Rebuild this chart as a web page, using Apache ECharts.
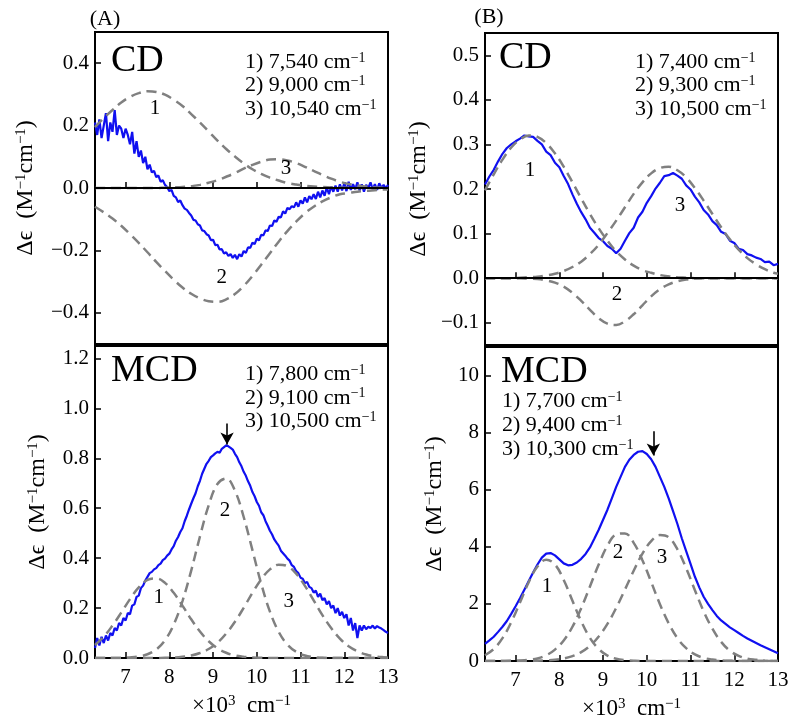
<!DOCTYPE html>
<html>
<head>
<meta charset="utf-8">
<script src="https://cdn.jsdelivr.net/npm/echarts@6/dist/echarts.min.js"></script>
<style>
  html, body { margin: 0; padding: 0; background: #fff; }
  #chart { width: 800px; height: 726px; }
</style>
</head>
<body>
<div id="chart"></div>
<script>
// wavenumber grids (x10^3 cm-1)
var xFine = [
  6.30,6.35,6.40,6.45,6.50,6.55,6.60,6.65,6.70,6.75,
  6.80,6.85,6.90,6.95,7.00,7.05,7.10,7.15,7.20,7.25,
  7.30,7.35,7.40,7.45,7.50,7.55,7.60,7.65,7.70,7.75,
  7.80,7.85,7.90,7.95,8.00,8.05,8.10,8.15,8.20,8.25,
  8.30,8.35,8.40,8.45,8.50,8.55,8.60,8.65,8.70,8.75,
  8.80,8.85,8.90,8.95,9.00,9.05,9.10,9.15,9.20,9.25,
  9.30,9.35,9.40,9.45,9.50,9.55,9.60,9.65,9.70,9.75,
  9.80,9.85,9.90,9.95,10.00,10.05,10.10,10.15,10.20,10.25,
  10.30,10.35,10.40,10.45,10.50,10.55,10.60,10.65,10.70,10.75,
  10.80,10.85,10.90,10.95,11.00,11.05,11.10,11.15,11.20,11.25,
  11.30,11.35,11.40,11.45,11.50,11.55,11.60,11.65,11.70,11.75,
  11.80,11.85,11.90,11.95,12.00,12.05,12.10,12.15,12.20,12.25,
  12.30,12.35,12.40,12.45,12.50,12.55,12.60,12.65,12.70,12.75,
  12.80,12.85,12.90,12.95,13.00
];
var xMid = [
  6.3,6.4,6.5,6.6,6.7,6.8,6.9,7.0,7.1,7.2,
  7.3,7.4,7.5,7.6,7.7,7.8,7.9,8.0,8.1,8.2,
  8.3,8.4,8.5,8.6,8.7,8.8,8.9,9.0,9.1,9.2,
  9.3,9.4,9.5,9.6,9.7,9.8,9.9,10.0,10.1,10.2,
  10.3,10.4,10.5,10.6,10.7,10.8,10.9,11.0,11.1,11.2,
  11.3,11.4,11.5,11.6,11.7,11.8,11.9,12.0,12.1,12.2,
  12.3,12.4,12.5,12.6,12.7,12.8,12.9,13.0
];
var xComp = [
  6.3,6.5,6.7,6.9,7.1,7.3,7.5,7.7,7.9,8.1,
  8.3,8.5,8.7,8.9,9.1,9.3,9.5,9.7,9.9,10.1,
  10.3,10.5,10.7,10.9,11.1,11.3,11.5,11.7,11.9,12.1,
  12.3,12.5,12.7,12.9,13.0
];
var xTicks = [7, 8, 9, 10, 11, 12, 13];

// (A) CD
var cdA_obs = [
  0.21,0.17,0.22,0.16,0.20,0.24,0.15,0.21,0.18,0.25,
  0.17,0.20,0.19,0.16,0.19,0.17,0.14,0.18,0.11,0.15,
  0.10,0.12,0.08,0.10,0.06,0.075,0.05,0.055,0.035,0.04,
  0.02,0.025,0.01,0.003,-0.01,-0.006,-0.025,-0.03,-0.045,-0.04,
  -0.055,-0.066,-0.07,-0.08,-0.088,-0.102,-0.104,-0.116,-0.12,-0.136,
  -0.138,-0.148,-0.152,-0.167,-0.166,-0.183,-0.182,-0.197,-0.196,-0.21,
  -0.206,-0.218,-0.212,-0.224,-0.214,-0.228,-0.212,-0.22,-0.202,-0.208,
  -0.19,-0.192,-0.175,-0.18,-0.162,-0.168,-0.15,-0.152,-0.136,-0.138,
  -0.12,-0.122,-0.104,-0.108,-0.092,-0.094,-0.075,-0.082,-0.064,-0.068,
  -0.058,-0.062,-0.046,-0.06,-0.04,-0.05,-0.03,-0.046,-0.026,-0.036,
  -0.02,-0.035,-0.012,-0.03,-0.008,-0.025,0.002,-0.02,0.005,-0.012,
  0.008,-0.012,0.012,-0.008,0.015,-0.01,0.02,-0.006,0.012,-0.004,
  0.018,-0.008,0.012,-0.012,0.01,0.0,0.018,-0.004,0.012,-0.006,
  0.015,0.0,0.01,-0.002,0.01
];
var cdA_g1 = [
  0.195,0.224,0.250,0.274,0.292,0.304,0.310,0.308,0.299,0.283,
  0.263,0.237,0.210,0.181,0.152,0.125,0.101,0.079,0.060,0.045,
  0.033,0.024,0.016,0.011,0.007,0.005,0.003,0.002,0.001,0.001,
  0,0,0,0,0
];
var cdA_g2 = [
  -0.060,-0.078,-0.098,-0.121,-0.148,-0.176,-0.206,-0.237,-0.266,-0.294,
  -0.319,-0.339,-0.354,-0.363,-0.365,-0.357,-0.340,-0.314,-0.282,-0.246,
  -0.209,-0.172,-0.138,-0.108,-0.081,-0.060,-0.043,-0.030,-0.020,-0.016,
  -0.012,-0.009,-0.007,-0.005,-0.005
];
var cdA_g3 = [
  0,0,0,0,0,0,0,0,0.001,0.002,
  0.003,0.006,0.010,0.017,0.025,0.036,0.048,0.062,0.074,0.084,
  0.091,0.092,0.088,0.080,0.068,0.055,0.042,0.030,0.020,0.013,
  0.008,0.005,0.002,0.001,0.001
];

// (A) MCD
var mcdA_obs = [
  0.04,0.08,0.05,0.085,0.06,0.09,0.07,0.1,0.09,0.12,
  0.11,0.14,0.13,0.16,0.15,0.18,0.175,0.21,0.215,0.245,
  0.25,0.28,0.29,0.31,0.325,0.34,0.345,0.355,0.36,0.372,
  0.378,0.392,0.398,0.41,0.418,0.435,0.448,0.47,0.485,0.505,
  0.52,0.548,0.57,0.595,0.618,0.64,0.66,0.688,0.71,0.738,
  0.758,0.778,0.79,0.805,0.812,0.82,0.826,0.822,0.838,0.845,
  0.852,0.848,0.842,0.835,0.818,0.805,0.784,0.768,0.746,0.73,
  0.708,0.69,0.665,0.648,0.625,0.61,0.584,0.572,0.548,0.53,
  0.51,0.495,0.475,0.462,0.45,0.43,0.42,0.41,0.398,0.39,
  0.372,0.365,0.348,0.34,0.322,0.318,0.3,0.305,0.285,0.28,
  0.262,0.27,0.245,0.258,0.232,0.24,0.215,0.228,0.2,0.21,
  0.18,0.2,0.17,0.185,0.16,0.175,0.13,0.16,0.11,0.14,
  0.08,0.13,0.11,0.13,0.115,0.125,0.12,0.13,0.118,0.128,
  0.122,0.118,0.112,0.105,0.1
];
var mcdA_g1 = [
  0.052,0.085,0.130,0.182,0.236,0.283,0.313,0.319,0.301,0.261,
  0.210,0.155,0.106,0.067,0.039,0.021,0.010,0.005,0.002,0.001,
  0,0,0,0,0,0,0,0,0,0,
  0,0,0,0,0
];
var mcdA_g2 = [
  0,0,0,0,0.002,0.006,0.015,0.034,0.071,0.134,
  0.228,0.350,0.487,0.612,0.697,0.719,0.670,0.565,0.432,0.298,
  0.186,0.105,0.054,0.025,0.010,0.004,0.001,0,0,0,
  0,0,0,0,0
];
var mcdA_g3 = [
  0,0,0,0,0,0,0,0,0.001,0.002,
  0.005,0.010,0.020,0.036,0.061,0.098,0.145,0.201,0.261,0.315,
  0.355,0.374,0.368,0.338,0.289,0.231,0.172,0.120,0.078,0.047,
  0.027,0.014,0.007,0.003,0.002
];

// (B) CD
var cdB_obs = [
  0.21,0.228,0.243,0.262,0.279,0.292,0.3,0.307,0.313,0.32,
  0.318,0.317,0.308,0.3,0.284,0.276,0.259,0.249,0.229,0.211,
  0.188,0.167,0.148,0.132,0.113,0.102,0.09,0.083,0.072,0.066,
  0.056,0.066,0.084,0.101,0.113,0.136,0.149,0.169,0.184,0.201,
  0.214,0.229,0.231,0.236,0.23,0.223,0.208,0.199,0.183,0.17,
  0.153,0.143,0.128,0.119,0.104,0.099,0.084,0.079,0.066,0.063,
  0.054,0.051,0.046,0.043,0.036,0.037,0.029,0.032
];
var cdB_g1 = [
  0.197,0.233,0.266,0.293,0.311,0.320,0.317,0.303,0.280,0.250,
  0.215,0.179,0.144,0.112,0.084,0.060,0.042,0.028,0.018,0.012,
  0.007,0.004,0.002,0.001,0,0,0,0,0,0,
  0,0,0,0,0
];
var cdB_g2 = [
  0,0,0,0,0,-0.001,-0.002,-0.005,-0.010,-0.019,
  -0.033,-0.051,-0.071,-0.090,-0.102,-0.105,-0.097,-0.081,-0.061,-0.041,
  -0.025,-0.014,-0.007,-0.003,-0.001,0,0,0,0,0,
  0,0,0,0,0
];
var cdB_g3 = [
  0,0,0,0,0.001,0.002,0.003,0.006,0.010,0.016,
  0.025,0.037,0.054,0.075,0.101,0.129,0.159,0.189,0.215,0.235,
  0.247,0.250,0.242,0.226,0.202,0.174,0.144,0.114,0.087,0.064,
  0.045,0.031,0.020,0.012,0.010
];

// (B) MCD
var mcdB_obs = [
  0.6,0.72,0.85,1.02,1.2,1.4,1.65,1.92,2.2,2.5,
  2.8,3.1,3.38,3.62,3.76,3.78,3.7,3.56,3.42,3.35,
  3.37,3.45,3.58,3.75,3.98,4.28,4.6,4.95,5.3,5.7,
  6.1,6.45,6.8,7.05,7.22,7.33,7.35,7.25,7.07,6.8,
  6.45,6.1,5.7,5.25,4.8,4.3,3.85,3.4,2.95,2.58,
  2.25,2.0,1.78,1.58,1.42,1.3,1.18,1.08,0.98,0.88,
  0.79,0.71,0.63,0.55,0.48,0.41,0.34,0.27
];
var mcdB_g1 = [
  0.20,0.42,0.80,1.36,2.05,2.76,3.31,3.55,3.38,2.84,
  2.11,1.39,0.81,0.42,0.19,0.08,0.03,0.01,0,0,
  0,0,0,0,0,0,0,0,0,0,
  0,0,0,0,0
];
var mcdB_g2 = [
  0,0,0.002,0.006,0.016,0.04,0.09,0.20,0.40,0.72,
  1.20,1.85,2.61,3.38,4.04,4.43,4.47,4.14,3.53,2.77,
  1.99,1.32,0.80,0.45,0.23,0.11,0.05,0.02,0.01,0,
  0,0,0,0,0
];
var mcdB_g3 = [
  0,0,0,0,0,0,0.01,0.02,0.04,0.09,
  0.17,0.31,0.53,0.86,1.30,1.86,2.50,3.16,3.76,4.20,
  4.41,4.33,3.91,3.25,2.48,1.74,1.13,0.67,0.36,0.18,
  0.08,0.04,0.01,0,0
];

// fitted band centres shown in each panel
var cdA_peaks = ['7,540', '9,000', '10,540'];
var mcdA_peaks = ['7,800', '9,100', '10,500'];
var cdB_peaks = ['7,400', '9,300', '10,500'];
var mcdB_peaks = ['7,700', '9,400', '10,300'];

// y ticks
var cdA_ticks = [-0.4, -0.2, 0, 0.2, 0.4];
var mcdA_ticks = [0, 0.2, 0.4, 0.6, 0.8, 1.0, 1.2];
var cdB_ticks = [-0.1, 0, 0.1, 0.2, 0.3, 0.4, 0.5];
var mcdB_ticks = [0, 2, 4, 6, 8, 10];

var serif = "'Liberation Serif', 'Times New Roman', serif";
var blue = '#1010f0';
var grey = '#808080';

function pairs(xs, ys) {
  return xs.map(function (x, i) { return [x, ys[i]]; });
}
function fmt1(v) {
  return (v < 0 ? '\u2212' : '') + Math.abs(v).toFixed(1);
}
var supRich = {
  s: { fontSize: 15, verticalAlign: 'top', fontFamily: serif, color: '#000' }
};

function xAxisOf(idx, withLabels) {
  var ax = {
    type: 'value', gridIndex: idx, min: 6.3, max: 13,
    axisLine: { show: false },
    splitLine: { show: false },
    axisTick: { inside: true, length: 6, customValues: xTicks, lineStyle: { color: '#000', width: 1.5 } },
    axisLabel: { show: withLabels, customValues: xTicks, margin: 9, color: '#000', fontSize: 21, fontFamily: serif }
  };
  if (withLabels) {
    ax.name = '\u00d710{s|3}  cm{s|\u22121}';
    ax.nameLocation = 'middle';
    ax.nameGap = 36;
    ax.nameTextStyle = { fontSize: 23, color: '#000', fontFamily: serif, rich: supRich };
  }
  return ax;
}
function yAxisOf(idx, min, max, ticks, fmt, gap) {
  return {
    type: 'value', gridIndex: idx, min: min, max: max,
    axisLine: { show: false },
    splitLine: { show: false },
    axisTick: { inside: true, length: 6, customValues: ticks, lineStyle: { color: '#000', width: 1.5 } },
    axisLabel: { customValues: ticks, margin: 6, color: '#000', fontSize: 21, fontFamily: serif, formatter: fmt },
    name: '\u0394\u03f5  (M{s|\u22121}cm{s|\u22121})',
    nameLocation: 'middle',
    nameRotate: 90,
    nameGap: gap,
    nameTextStyle: { fontSize: 24, color: '#000', fontFamily: serif, rich: supRich }
  };
}

function obsSeries(idx, xs, ys, extra) {
  var s = {
    type: 'line', xAxisIndex: idx, yAxisIndex: idx, data: pairs(xs, ys),
    showSymbol: false, symbol: 'none', silent: true,
    lineStyle: { color: blue, width: 2.2 }
  };
  for (var k in extra) s[k] = extra[k];
  return s;
}
function compSeries(idx, ys) {
  return {
    type: 'line', xAxisIndex: idx, yAxisIndex: idx, data: pairs(xComp, ys),
    showSymbol: false, symbol: 'none', smooth: 0.4, silent: true,
    lineStyle: { color: grey, width: 2.5, type: [10, 6] }
  };
}
function numLabels(list) {
  return {
    symbol: 'circle', symbolSize: 1, silent: true,
    itemStyle: { color: 'rgba(0,0,0,0)' },
    label: { show: true, position: 'inside', formatter: '{b}', color: '#000', fontSize: 21, fontFamily: serif },
    data: list.map(function (p) { return { name: p[0], coord: [p[1], p[2]] }; })
  };
}
var zeroLine = {
  silent: true, symbol: 'none', label: { show: false },
  lineStyle: { color: '#000', width: 2, type: 'solid' },
  data: [{ yAxis: 0 }]
};
function arrowLine(x, y0, y1) {
  return {
    silent: true, symbol: ['none', 'arrow'], symbolSize: [10, 12], label: { show: false },
    lineStyle: { color: '#000', width: 1.6, type: 'solid' },
    data: [[{ coord: [x, y0] }, { coord: [x, y1] }]]
  };
}

function bigText(txt, x, y) {
  return { type: 'text', x: x, y: y, style: { text: txt, fill: '#000', fontSize: 38, fontFamily: serif, align: 'left', verticalAlign: 'middle' } };
}
function peakLines(list, x, y0, dy) {
  return list.map(function (p, i) {
    return {
      type: 'text', x: x, y: y0 + i * dy,
      style: {
        text: (i + 1) + ') ' + p + ' cm{s|\u22121}',
        fill: '#000', fontSize: 22, fontFamily: serif, align: 'left', verticalAlign: 'middle',
        rich: { s: { fontSize: 14, verticalAlign: 'top', fontFamily: serif, fill: '#000' } }
      }
    };
  });
}

var chart = echarts.init(document.getElementById('chart'));
chart.setOption({
  animation: false,
  backgroundColor: '#fff',
  grid: [
    { left: 95, top: 32, width: 293, height: 312, show: true, borderColor: '#000', borderWidth: 2, backgroundColor: 'transparent' },
    { left: 95, top: 346, width: 293, height: 312, show: true, borderColor: '#000', borderWidth: 2, backgroundColor: 'transparent' },
    { left: 485, top: 33, width: 293, height: 312, show: true, borderColor: '#000', borderWidth: 2, backgroundColor: 'transparent' },
    { left: 485, top: 347, width: 293, height: 314, show: true, borderColor: '#000', borderWidth: 2, backgroundColor: 'transparent' }
  ],
  xAxis: [xAxisOf(0, false), xAxisOf(1, true), xAxisOf(2, false), xAxisOf(3, true)],
  yAxis: [
    yAxisOf(0, -0.5, 0.5, cdA_ticks, fmt1, 57),
    yAxisOf(1, 0, 1.25, mcdA_ticks, fmt1, 45),
    yAxisOf(2, -0.15, 0.55, cdB_ticks, fmt1, 54),
    yAxisOf(3, 0, 11, mcdB_ticks, function (v) { return String(v); }, 38)
  ],
  series: [
    obsSeries(0, xFine, cdA_obs, {
      markLine: zeroLine,
      markPoint: numLabels([['1', 7.67, 0.255], ['2', 9.2, -0.287], ['3', 10.67, 0.061]])
    }),
    compSeries(0, cdA_g1), compSeries(0, cdA_g2), compSeries(0, cdA_g3),

    obsSeries(1, xFine, mcdA_obs, {
      markLine: arrowLine(9.32, 0.94, 0.855),
      markPoint: numLabels([['1', 7.76, 0.243], ['2', 9.27, 0.59], ['3', 10.73, 0.227]])
    }),
    compSeries(1, mcdA_g1), compSeries(1, mcdA_g2), compSeries(1, mcdA_g3),

    obsSeries(2, xMid, cdB_obs, {
      markLine: zeroLine,
      markPoint: numLabels([['1', 7.33, 0.242], ['2', 9.32, -0.036], ['3', 10.76, 0.164]])
    }),
    compSeries(2, cdB_g1), compSeries(2, cdB_g2), compSeries(2, cdB_g3),

    obsSeries(3, xMid, mcdB_obs, {
      markLine: arrowLine(10.15, 8.05, 7.2),
      markPoint: numLabels([['1', 7.72, 2.6], ['2', 9.34, 3.8], ['3', 10.35, 3.63]])
    }),
    compSeries(3, mcdB_g1), compSeries(3, mcdB_g2), compSeries(3, mcdB_g3)
  ],
  graphic: [
    { type: 'text', x: 105, y: 19, style: { text: '(A)', fill: '#000', fontSize: 22, fontFamily: serif, align: 'center', verticalAlign: 'middle' } },
    { type: 'text', x: 489, y: 17, style: { text: '(B)', fill: '#000', fontSize: 22, fontFamily: serif, align: 'center', verticalAlign: 'middle' } },
    bigText('CD', 111, 61),
    bigText('MCD', 111, 371),
    bigText('CD', 499, 58),
    bigText('MCD', 501, 372)
  ].concat(
    peakLines(cdA_peaks, 245, 62, 23.5),
    peakLines(mcdA_peaks, 245, 374, 23.8),
    peakLines(cdB_peaks, 635, 62, 23.5),
    peakLines(mcdB_peaks, 502, 401, 24)
  )
});
</script>
</body>
</html>
